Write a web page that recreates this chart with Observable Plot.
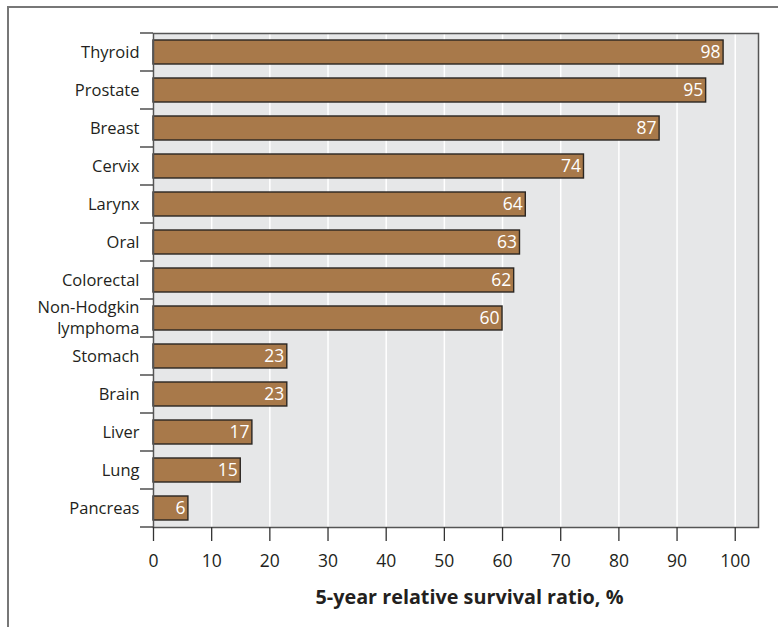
<!DOCTYPE html>
<html>
<head>
<meta charset="utf-8">
<script src="https://cdn.jsdelivr.net/npm/d3@7"></script>
<script src="https://cdn.jsdelivr.net/npm/@observablehq/plot@0.6"></script>
<style>
  html, body { margin: 0; padding: 0; background: #fff; }
  body { width: 778px; height: 627px; position: relative; overflow: hidden; font-family: "Open Sans", sans-serif; }
  #frame { position: absolute; left: 7px; top: 6px; width: 900px; height: 800px; border: 2px solid #777; box-sizing: border-box; }
  #chart { position: absolute; left: 0; top: 0; }
  #caption { position: absolute; top: 584px; left: 167px; width: 605px; text-align: center; font-weight: 700; font-size: 19.8px; line-height: 26px; color: #231f20; }
</style>
</head>
<body>
<div id="frame"></div>
<div id="chart"></div>
<div id="caption">5-year relative survival ratio, %</div>
<script>
const categories = ["Thyroid", "Prostate", "Breast", "Cervix", "Larynx", "Oral", "Colorectal", "Non-Hodgkin lymphoma", "Stomach", "Brain", "Liver", "Lung", "Pancreas"];
const categoryLabels = ["Thyroid", "Prostate", "Breast", "Cervix", "Larynx", "Oral", "Colorectal", "Non-Hodgkin\nlymphoma", "Stomach", "Brain", "Liver", "Lung", "Pancreas"];
const survival = [98, 95, 87, 74, 64, 63, 62, 60, 23, 23, 17, 15, 6];
const xTicks = [0, 10, 20, 30, 40, 50, 60, 70, 80, 90, 100];

const data = categories.map((c, i) => ({name: c, value: survival[i]}));
const labelOf = new Map(categories.map((c, i) => [c, categoryLabels[i]]));

function boundaryTicks(index, scales, values, dims) {
  const y = scales.y;
  const step = (dims.height - dims.marginTop - dims.marginBottom) / categories.length;
  const ys = categories.map(c => y(c));
  ys.push(ys[ys.length - 1] + step);
  const g = d3.create("svg:g");
  g.selectAll("line").data(ys).join("line")
    .attr("x1", dims.marginLeft - 13).attr("x2", dims.marginLeft)
    .attr("y1", d => d).attr("y2", d => d)
    .attr("stroke", "#333").attr("stroke-width", 1.3);
  return g.node();
}

const chart = Plot.plot({
  width: 778,
  height: 575,
  marginTop: 33,
  marginLeft: 153,
  marginRight: 20,
  marginBottom: 48,
  style: {fontFamily: "'Open Sans', sans-serif", background: "transparent", color: "#231f20"},
  x: {domain: [0, 104]},
  y: {domain: categories, paddingInner: 0, paddingOuter: 0, axis: null},
  marks: [
    Plot.frame({fill: "#e6e7e8"}),
    Plot.ruleX(xTicks, {stroke: "#fff", strokeWidth: 1.5}),
    Plot.barX(data, {x: "value", y: "name", fill: "#a8794a", stroke: "#2a2622", strokeWidth: 1.4, insetTop: 7, insetBottom: 7}),
    Plot.text(data, {x: "value", y: "name", text: d => String(d.value), textAnchor: "end", dx: -3, fill: "#fff", fontSize: 17.5}),
    Plot.frame({stroke: "#555", strokeWidth: 1.5}),
    Plot.axisX({ticks: xTicks, tickFormat: d => String(d), tickSize: 14, tickPadding: 13, fontSize: 17.5, label: null, stroke: "#333", strokeWidth: 1.3}),
    Plot.text(categories, {y: d => d, text: d => labelOf.get(d), frameAnchor: "left", textAnchor: "end", dx: -14, dy: -1.5, fontSize: 16.5, lineHeight: 1.25, fill: "#231f20"}),
    boundaryTicks
  ]
});
document.getElementById("chart").appendChild(chart);
</script>
</body>
</html>
